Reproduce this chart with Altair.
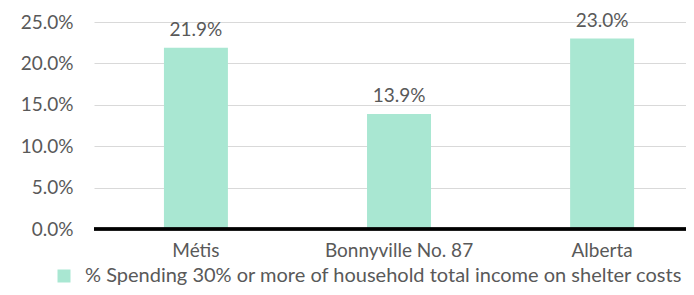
import altair as alt
import pandas as pd

categories = ["Métis", "Bonnyville No. 87", "Alberta"]
values = [0.219, 0.139, 0.230]
series_name = "% Spending 30% or more of household total income on shelter costs"
y_ticks = [0, 0.05, 0.10, 0.15, 0.20, 0.25]

df = pd.DataFrame({"category": categories, "value": values, "series": [series_name] * len(categories)})

FONT = "Lato"
GREY = "#595959"
BAR = "#a9e7d2"
FS = 19

x_enc = alt.X(
    "category:N",
    sort=categories,
    scale=alt.Scale(paddingInner=0.685, paddingOuter=0.30, align=0.574),
    axis=alt.Axis(title=None, labelAngle=0, domain=False, ticks=False, labelPadding=12,
                  labelFontSize=FS, labelColor=GREY, labelFont=FONT),
)
y_enc = alt.Y(
    "value:Q",
    scale=alt.Scale(domain=[0, 0.25], nice=False),
    axis=alt.Axis(title=None, format=".1%", values=y_ticks, domain=False, ticks=False,
                  labelPadding=21, labelFontSize=FS, labelColor=GREY, labelFont=FONT,
                  grid=True, gridColor="#d9d9d9", gridWidth=1),
)

base = alt.Chart(df).encode(x=x_enc, y=y_enc)

bars = base.mark_bar().encode(
    color=alt.Color(
        "series:N",
        scale=alt.Scale(range=[BAR]),
        legend=alt.Legend(title=None, orient="none", legendX=-40, legendY=244, padding=0,
                          symbolType="square", symbolSize=169, symbolStrokeWidth=0,
                          symbolOpacity=1, labelFontSize=20, labelColor=GREY, labelFont=FONT,
                          labelOffset=11, labelLimit=1000),
    )
)

text = base.mark_text(baseline="alphabetic", dy=-12, fontSize=FS, color=GREY, font=FONT).encode(
    text=alt.Text("value:Q", format=".1%")
)

zero = alt.Chart(df).mark_rule(color="black", strokeWidth=3).encode(y=alt.datum(0))

chart = (bars + text + zero).properties(
    width=592,
    height=207,
    autosize=alt.AutoSizeParams(type="none"),
    padding={"left": 86, "top": 14, "right": 0, "bottom": 58},
).configure_view(stroke=None)

chart.save("out.html", embed_options={"renderer": "svg", "actions": False})
